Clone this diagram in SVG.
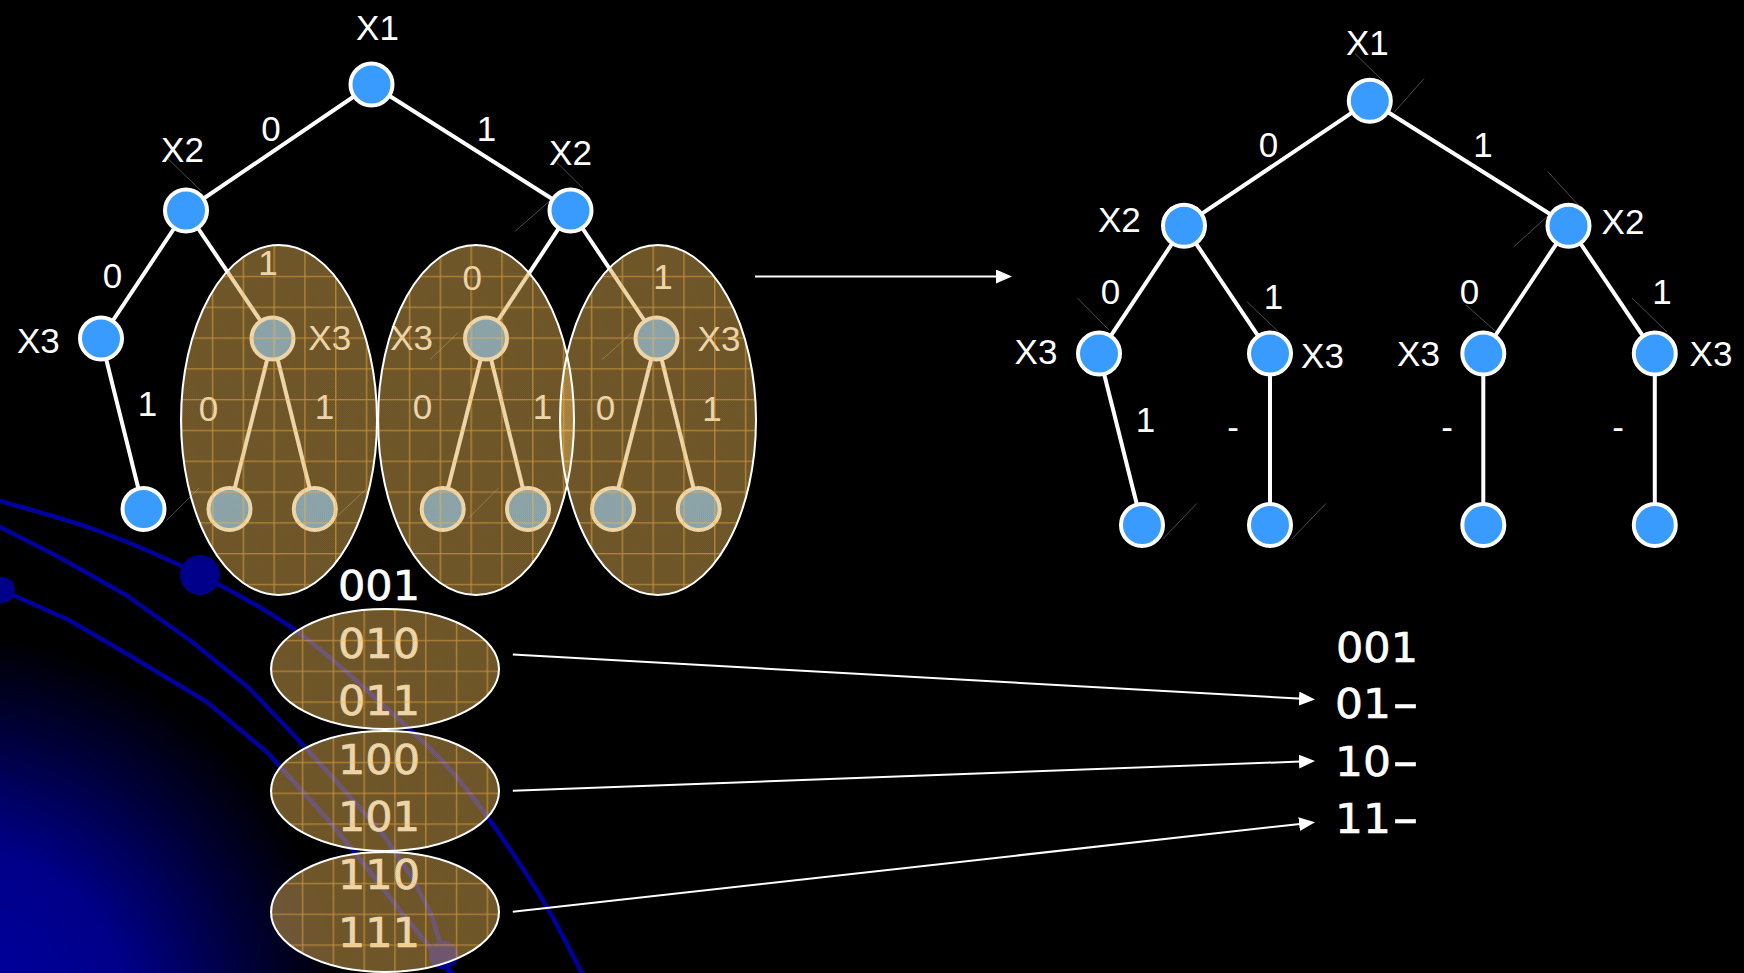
<svg xmlns="http://www.w3.org/2000/svg" width="1744" height="973" viewBox="0 0 1744 973">
  <defs>
    <style>
      .node { fill: #3a9bff; stroke: #ffffff; stroke-width: 4; }
      .edge { stroke: #ffffff; stroke-width: 4; fill: none; }
      .lbl { font-family: "Liberation Sans", Arial, sans-serif; font-size: 35px; fill: #ffffff; text-anchor: middle; }
      .mono { font-family: "DejaVu Sans", "Liberation Sans", sans-serif; font-size: 40px; fill: #ffffff; stroke: #ffffff; stroke-width: 0.6; }
      .dash { font-size: 50px; }
      .hair { stroke: #4c4c4c; stroke-width: 1; }
      .orbit { stroke: #00009c; stroke-width: 4.5; fill: none; stroke-linejoin: round; stroke-linecap: round; }
      .cover { fill: url(#mesh); }
      .rim { fill: none; stroke: #ffffff; stroke-width: 2; }
      .arrow { stroke: #ffffff; stroke-width: 2; fill: none; marker-end: url(#head); }
    </style>
    <radialGradient id="glow" gradientUnits="userSpaceOnUse" cx="-60" cy="1040" r="440">
      <stop offset="0" stop-color="#0000a8"/>
      <stop offset="0.45" stop-color="#000088"/>
      <stop offset="0.75" stop-color="#000030"/>
      <stop offset="0.93" stop-color="#000000"/>
    </radialGradient>
    <pattern id="grain" width="2" height="2" patternUnits="userSpaceOnUse">
      <rect width="1" height="1" fill="#000000" fill-opacity="0.12"/>
      <rect x="1" y="1" width="1" height="1" fill="#000000" fill-opacity="0.12"/>
    </pattern>
    <!-- translucent gold fill with a large grid; origin sits at each shape's bbox corner -->
    <pattern id="mesh" width="30.8" height="30.8" patternUnits="userSpaceOnUse">
      <rect width="30.8" height="30.8" fill="#fcc45e" fill-opacity="0.47"/>
      <rect width="30.8" height="30.8" fill="url(#grain)"/>
      <path d="M0.8 0V30.8M0 0.8H30.8" stroke="#ffb845" stroke-opacity="0.6" stroke-width="1.1"/>
    </pattern>
    <marker id="head" markerUnits="userSpaceOnUse" markerWidth="16" markerHeight="14" refX="8" refY="7" orient="auto">
      <path d="M0 0L16 7L0 14Z" fill="#ffffff"/>
    </marker>
  </defs>

  <!-- backdrop -->
  <rect width="1744" height="973" fill="#000000"/>
  <rect width="1744" height="973" fill="url(#glow)"/>
  <g id="orbits">
    <path class="orbit" d="M0 501C16 505.8 62.7 517.7 96 530C129.3 542.3 166.8 558.3 200 575C233.2 591.7 264.5 608.3 295 630C325.5 651.7 355.7 680 383 705C410.3 730 433.5 749.3 459 780C484.5 810.7 515.5 856.8 536 889C556.5 921.2 574.3 959 582 973"/>
    <polyline class="orbit" points="0,527 57,556 126,595 191,641 249,688 291,732 344,790 383,834 413,879 432,916 444,957 449,973"/>
    <polyline class="orbit" points="0,590 15,596 69,620 134,658 207,702 268,753 329,821 367,868 402,913 432,950 452,973"/>
    <circle cx="200" cy="575" r="20" fill="#00008a"/>
    <circle cx="2" cy="590" r="13" fill="#00008a"/>
    <circle cx="443.5" cy="955" r="14.5" fill="#00008a"/>
  </g>

  <!-- faint guide strokes -->
  <g id="guides" class="hair">
    <line x1="168" y1="158.8" x2="201.5" y2="191.3"/>
    <line x1="557" y1="162.6" x2="583" y2="188.3"/>
    <line x1="514.8" y1="231.5" x2="552" y2="199"/>
    <line x1="430" y1="359.7" x2="457.6" y2="333"/>
    <line x1="602" y1="359.7" x2="631.7" y2="333"/>
    <line x1="166.6" y1="520.5" x2="199" y2="488"/>
    <line x1="336.8" y1="516.5" x2="365" y2="490"/>
    <line x1="468.3" y1="518.3" x2="498.3" y2="488.3"/>
    <line x1="1355" y1="53.6" x2="1384" y2="82"/>
    <line x1="1394" y1="112.5" x2="1424" y2="78.6"/>
    <line x1="1547.6" y1="171.4" x2="1580" y2="207"/>
    <line x1="1513.5" y1="247" x2="1550" y2="214"/>
    <line x1="1077.4" y1="298" x2="1109" y2="330"/>
    <line x1="1247" y1="301.7" x2="1278" y2="331.4"/>
    <line x1="1466" y1="305" x2="1496.4" y2="332"/>
    <line x1="1632" y1="298" x2="1667" y2="332"/>
    <line x1="1162.7" y1="539" x2="1196.8" y2="503.5"/>
    <line x1="1291.8" y1="539" x2="1326" y2="503.5"/>
  </g>

  <!-- tree edges and arrows -->
  <g id="connectors">
    <g id="full-tree-edges" class="edge">
      <line x1="371.5" y1="84.5" x2="186" y2="210.5"/>
      <line x1="371.5" y1="84.5" x2="570.5" y2="210.5"/>
      <line x1="186" y1="210.5" x2="101" y2="338.5"/>
      <line x1="186" y1="210.5" x2="272.5" y2="338.5"/>
      <line x1="570.5" y1="210.5" x2="486" y2="338.5"/>
      <line x1="570.5" y1="210.5" x2="656.5" y2="338.5"/>
      <line x1="101" y1="338.5" x2="143.5" y2="509"/>
      <line x1="272.5" y1="338.5" x2="229.5" y2="509"/>
      <line x1="272.5" y1="338.5" x2="314.8" y2="509"/>
      <line x1="486" y1="338.5" x2="442.7" y2="509"/>
      <line x1="486" y1="338.5" x2="528" y2="509"/>
      <line x1="656.5" y1="338.5" x2="613" y2="509"/>
      <line x1="656.5" y1="338.5" x2="698.7" y2="509"/>
    </g>
    <g id="reduced-tree-edges" class="edge">
      <line x1="1369.8" y1="100.7" x2="1184" y2="225.7"/>
      <line x1="1369.8" y1="100.7" x2="1568.5" y2="225.7"/>
      <line x1="1184" y1="225.7" x2="1099" y2="353.6"/>
      <line x1="1184" y1="225.7" x2="1270" y2="353.6"/>
      <line x1="1568.5" y1="225.7" x2="1483.3" y2="353.6"/>
      <line x1="1568.5" y1="225.7" x2="1654.8" y2="353.6"/>
      <line x1="1099" y1="353.6" x2="1142" y2="525"/>
      <line x1="1270" y1="353.6" x2="1270" y2="525"/>
      <line x1="1483.3" y1="353.6" x2="1483.3" y2="525"/>
      <line x1="1654.8" y1="353.6" x2="1654.8" y2="525"/>
    </g>
  </g>

  <!-- full decision tree -->
  <g id="full-tree">
    <g id="a-x1"><circle class="node" cx="371.5" cy="84.5" r="21"/><text class="lbl" x="377.5" y="39.5">X1</text></g>
    <g id="a-x2-0"><circle class="node" cx="186" cy="210.5" r="21"/><text class="lbl" x="182.5" y="161.5">X2</text></g>
    <g id="a-x2-1"><circle class="node" cx="570.5" cy="210.5" r="21"/><text class="lbl" x="570.5" y="165">X2</text></g>
    <g id="a-x3-00"><circle class="node" cx="101" cy="338.5" r="21"/><text class="lbl" x="38.3" y="353">X3</text></g>
    <g id="a-x3-01"><circle class="node" cx="272.5" cy="338.5" r="21"/><text class="lbl" x="329.7" y="349.5">X3</text></g>
    <g id="a-x3-10"><circle class="node" cx="486" cy="338.5" r="21"/><text class="lbl" x="411.6" y="349.5">X3</text></g>
    <g id="a-x3-11"><circle class="node" cx="656.5" cy="338.5" r="21"/><text class="lbl" x="719" y="351">X3</text></g>
    <g id="a-leaf-001"><circle class="node" cx="143.5" cy="509" r="21"/></g>
    <g id="a-leaf-010"><circle class="node" cx="229.5" cy="509" r="21"/></g>
    <g id="a-leaf-011"><circle class="node" cx="314.8" cy="509" r="21"/></g>
    <g id="a-leaf-100"><circle class="node" cx="442.7" cy="509" r="21"/></g>
    <g id="a-leaf-101"><circle class="node" cx="528" cy="509" r="21"/></g>
    <g id="a-leaf-110"><circle class="node" cx="613" cy="509" r="21"/></g>
    <g id="a-leaf-111"><circle class="node" cx="698.7" cy="509" r="21"/></g>
    <g id="a-edge-labels">
      <text class="lbl" x="271" y="140.8">0</text>
      <text class="lbl" x="486.4" y="140.8">1</text>
      <text class="lbl" x="112.5" y="288">0</text>
      <text class="lbl" x="268" y="275">1</text>
      <text class="lbl" x="472.3" y="290">0</text>
      <text class="lbl" x="663" y="289">1</text>
      <text class="lbl" x="147.5" y="416">1</text>
      <text class="lbl" x="208.5" y="421">0</text>
      <text class="lbl" x="324.5" y="419">1</text>
      <text class="lbl" x="422.4" y="419">0</text>
      <text class="lbl" x="542.4" y="419">1</text>
      <text class="lbl" x="605.5" y="420">0</text>
      <text class="lbl" x="712" y="421">1</text>
    </g>
  </g>

  <!-- minterm list -->
  <g id="minterms">
    <text class="mono" x="338" y="600" textLength="82" lengthAdjust="spacingAndGlyphs">001</text>
    <text class="mono" x="338" y="657.5" textLength="82" lengthAdjust="spacingAndGlyphs">010</text>
    <text class="mono" x="338" y="715" textLength="82" lengthAdjust="spacingAndGlyphs">011</text>
    <text class="mono" x="338" y="773.5" textLength="82" lengthAdjust="spacingAndGlyphs">100</text>
    <text class="mono" x="338" y="831" textLength="82" lengthAdjust="spacingAndGlyphs">101</text>
    <text class="mono" x="338" y="889" textLength="82" lengthAdjust="spacingAndGlyphs">110</text>
    <text class="mono" x="338" y="946.5" textLength="82" lengthAdjust="spacingAndGlyphs">111</text>
  </g>

  <!-- merge groups -->
  <g id="groups">
    <g id="group-x3-01" transform="translate(181 245)"><ellipse class="cover" cx="98" cy="175" rx="98" ry="175"/></g>
    <g id="group-x3-10" transform="translate(378 245)"><ellipse class="cover" cx="98" cy="175" rx="98" ry="175"/></g>
    <g id="group-x3-11" transform="translate(560 245)"><ellipse class="cover" cx="98" cy="175" rx="98" ry="175"/></g>
    <g id="group-01x" transform="translate(271 609)"><ellipse class="cover" cx="114" cy="60" rx="114" ry="60"/></g>
    <g id="group-10x" transform="translate(271 731)"><ellipse class="cover" cx="114" cy="60" rx="114" ry="60"/></g>
    <g id="group-11x" transform="translate(271 852)"><ellipse class="cover" cx="114" cy="60" rx="114" ry="60"/></g>
    <g id="group-rims" class="rim">
      <ellipse cx="279" cy="420" rx="98" ry="175"/>
      <ellipse cx="476" cy="420" rx="98" ry="175"/>
      <ellipse cx="658" cy="420" rx="98" ry="175"/>
      <ellipse cx="385" cy="669" rx="114" ry="60"/>
      <ellipse cx="385" cy="791" rx="114" ry="60"/>
      <ellipse cx="385" cy="912" rx="114" ry="60"/>
    </g>
  </g>

  <!-- reduced decision tree -->
  <g id="reduced-tree">
    <g id="b-x1"><circle class="node" cx="1369.8" cy="100.7" r="21"/><text class="lbl" x="1367.4" y="55.4">X1</text></g>
    <g id="b-x2-0"><circle class="node" cx="1184" cy="225.7" r="21"/><text class="lbl" x="1119.4" y="232">X2</text></g>
    <g id="b-x2-1"><circle class="node" cx="1568.5" cy="225.7" r="21"/><text class="lbl" x="1623" y="234">X2</text></g>
    <g id="b-x3-00"><circle class="node" cx="1099" cy="353.6" r="21"/><text class="lbl" x="1036" y="364">X3</text></g>
    <g id="b-x3-01"><circle class="node" cx="1270" cy="353.6" r="21"/><text class="lbl" x="1322.5" y="367.8">X3</text></g>
    <g id="b-x3-10"><circle class="node" cx="1483.3" cy="353.6" r="21"/><text class="lbl" x="1418.5" y="366">X3</text></g>
    <g id="b-x3-11"><circle class="node" cx="1654.8" cy="353.6" r="21"/><text class="lbl" x="1711" y="366">X3</text></g>
    <g id="b-leaf-001"><circle class="node" cx="1142" cy="525" r="21"/></g>
    <g id="b-leaf-01x"><circle class="node" cx="1270" cy="525" r="21"/></g>
    <g id="b-leaf-10x"><circle class="node" cx="1483.3" cy="525" r="21"/></g>
    <g id="b-leaf-11x"><circle class="node" cx="1654.8" cy="525" r="21"/></g>
    <g id="b-edge-labels">
      <text class="lbl" x="1268.5" y="157">0</text>
      <text class="lbl" x="1483" y="157">1</text>
      <text class="lbl" x="1110.4" y="303.5">0</text>
      <text class="lbl" x="1273.6" y="309">1</text>
      <text class="lbl" x="1469.5" y="303.5">0</text>
      <text class="lbl" x="1662" y="303.5">1</text>
      <text class="lbl" x="1145.5" y="432">1</text>
      <text class="lbl" x="1233.2" y="438.5">-</text>
      <text class="lbl" x="1447" y="438.5">-</text>
      <text class="lbl" x="1618" y="438.5">-</text>
    </g>
  </g>

  <!-- reduced cube list -->
  <g id="cubes">
    <text class="mono" x="1336" y="661.7" textLength="82" lengthAdjust="spacingAndGlyphs">001</text>
    <text class="mono" y="718.3"><tspan x="1335" textLength="56" lengthAdjust="spacingAndGlyphs">01</tspan><tspan class="dash" x="1393" dy="2">–</tspan></text>
    <text class="mono" y="775.7"><tspan x="1335" textLength="56" lengthAdjust="spacingAndGlyphs">10</tspan><tspan class="dash" x="1393" dy="2">–</tspan></text>
    <text class="mono" y="832.7"><tspan x="1335" textLength="56" lengthAdjust="spacingAndGlyphs">11</tspan><tspan class="dash" x="1393" dy="2">–</tspan></text>
  </g>

  <g id="arrows">
    <line class="arrow" x1="755" y1="276.5" x2="1004" y2="276.5"/>
    <line class="arrow" x1="512.8" y1="654.5" x2="1307" y2="699.05"/>
    <line class="arrow" x1="512.8" y1="790.7" x2="1307" y2="761.3"/>
    <line class="arrow" x1="512.8" y1="911.7" x2="1307.05" y2="823.2"/>
  </g>
</svg>
